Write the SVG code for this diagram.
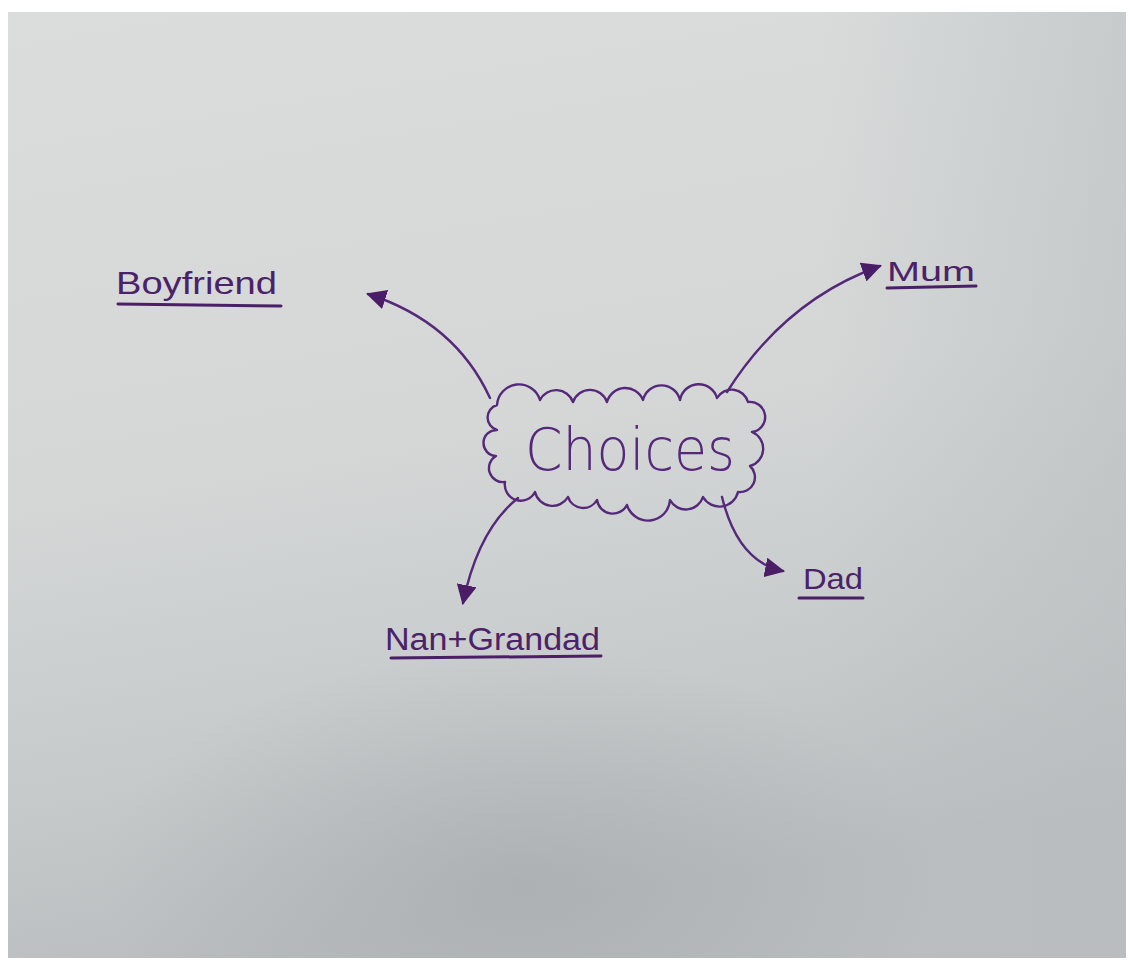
<svg xmlns="http://www.w3.org/2000/svg" width="1131" height="965" viewBox="0 0 1131 965">
<defs>
<linearGradient id="paper" x1="0" y1="0" x2="0.2" y2="1">
<stop offset="0" stop-color="#dadddc"/>
<stop offset="0.5" stop-color="#d4d7d6"/>
<stop offset="0.8" stop-color="#c7cacb"/>
<stop offset="1" stop-color="#babec0"/>
</linearGradient>
<radialGradient id="shadow" cx="0.5" cy="0.5" r="0.5">
<stop offset="0" stop-color="#9a9fa3" stop-opacity="0.45"/>
<stop offset="1" stop-color="#9a9fa3" stop-opacity="0"/>
</radialGradient>
<linearGradient id="rightShade" x1="0" y1="0" x2="1" y2="0">
<stop offset="0" stop-color="#b8bcbe" stop-opacity="0"/>
<stop offset="1" stop-color="#b8bcbe" stop-opacity="0.5"/>
</linearGradient>
<clipPath id="paperClip"><rect x="8" y="12" width="1118" height="946"/></clipPath>
<marker id="arrow" viewBox="0 0 20 20" refX="18" refY="10" markerWidth="20" markerHeight="20" markerUnits="userSpaceOnUse" orient="auto">
<path d="M0,0 L20,10 L0,20 z" fill="#4a1d66"/>
</marker>
<style>
.ink{fill:none;stroke:#55287a;stroke-width:2.4;stroke-linecap:round;stroke-linejoin:round}
.lbl{font-family:"Liberation Sans","DejaVu Sans",sans-serif;fill:#4b2268}
.thin{font-family:"DejaVu Sans","Liberation Sans",sans-serif;font-weight:200;fill:#55287a}
.ul{stroke:#4a1f66;stroke-width:3;stroke-linecap:round}
</style>
</defs>
<rect x="0" y="0" width="1131" height="965" fill="#ffffff"/>
<rect x="8" y="12" width="1118" height="946" fill="url(#paper)"/>
<g clip-path="url(#paperClip)">
<rect x="820" y="12" width="306" height="946" fill="url(#rightShade)"/>
<ellipse cx="520" cy="880" rx="420" ry="230" fill="url(#shadow)"/>
</g>
<g id="connectors">
<path class="ink" d="M490,398 Q455,322 368,294" marker-end="url(#arrow)"/>
<path class="ink" d="M727,392 Q785,300 880,266" marker-end="url(#arrow)"/>
<path class="ink" d="M518,498 Q478,530 463,603" marker-end="url(#arrow)"/>
<path class="ink" d="M722,497 Q738,562 783,571" marker-end="url(#arrow)"/>
</g>
<g id="choices">
<path class="ink" d="M497,405 A22,22 0 0 1 540,400 A18,18 0 0 1 573,402 A18,18 0 0 1 607,402 A19,19 0 0 1 643,400 A19,19 0 0 1 680,400 A19,19 0 0 1 717,398 A17,17 0 0 1 748,402 A15,15 0 0 1 752,432 A18,18 0 0 1 750,466 A15,15 0 0 1 738,492 A19,19 0 0 1 703,497 A18,18 0 0 1 670,500 A22,22 0 0 1 627,505 A16,16 0 0 1 597,500 A16,16 0 0 1 568,497 A18,18 0 0 1 535,492 A16,16 0 0 1 505,482 A14,14 0 0 1 496,456 A13,13 0 0 1 497,430 A13,13 0 0 1 497,405 Z"/>
<text class="thin" x="525" y="470" font-size="58" textLength="210" lengthAdjust="spacingAndGlyphs">Choices</text>
</g>
<g id="boyfriend">
<text class="lbl" x="116" y="294" font-size="32" textLength="161" lengthAdjust="spacingAndGlyphs">Boyfriend</text>
<line class="ul" x1="118" y1="304" x2="281" y2="306"/>
</g>
<g id="mum">
<text class="lbl" x="887" y="281" font-size="28" textLength="88" lengthAdjust="spacingAndGlyphs">Mum</text>
<line class="ul" x1="887" y1="288" x2="976" y2="286"/>
</g>
<g id="nan-grandad">
<text class="lbl" x="385" y="650" font-size="31" textLength="215" lengthAdjust="spacingAndGlyphs">Nan+Grandad</text>
<line class="ul" x1="391" y1="658" x2="601" y2="656"/>
</g>
<g id="dad">
<text class="lbl" x="803" y="589" font-size="30" textLength="60" lengthAdjust="spacingAndGlyphs">Dad</text>
<line class="ul" x1="799" y1="598" x2="863" y2="598"/>
</g>
</svg>
